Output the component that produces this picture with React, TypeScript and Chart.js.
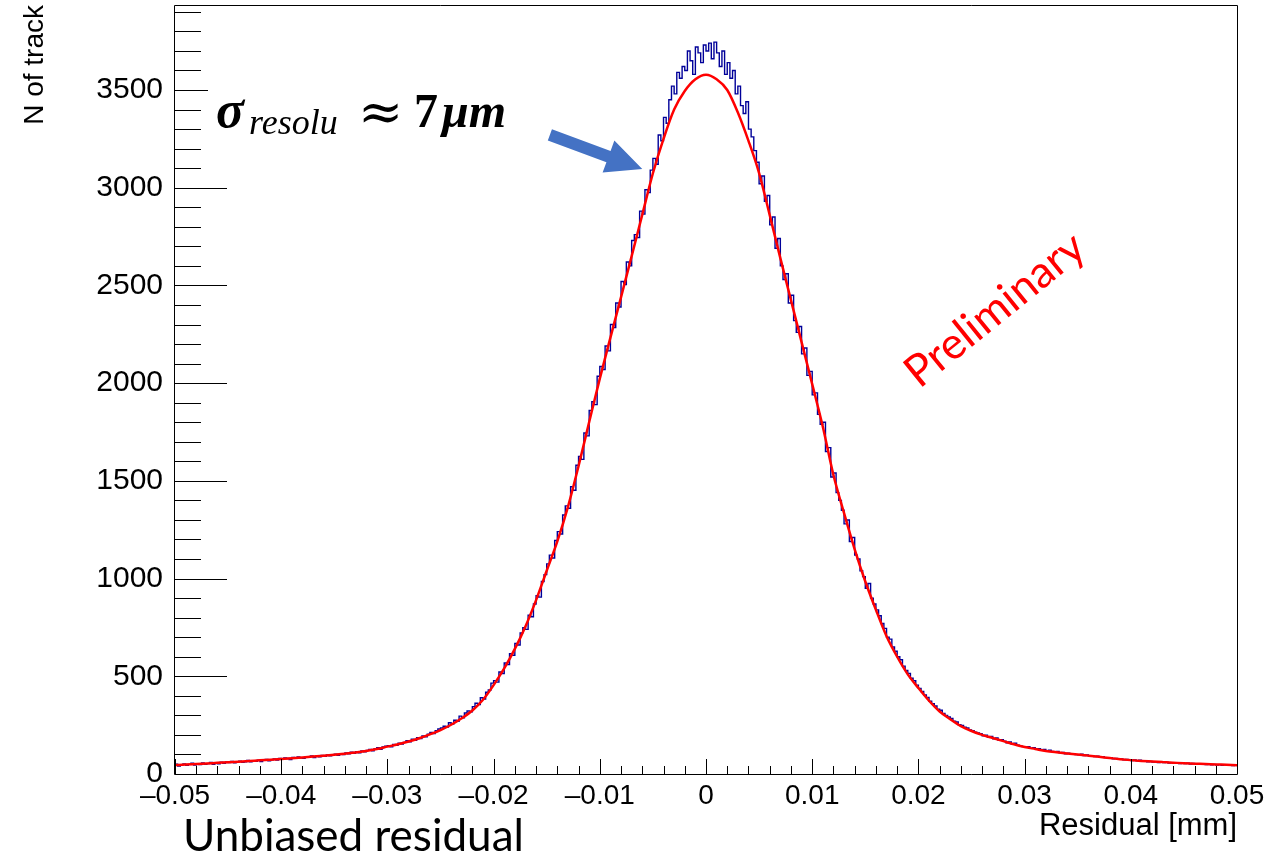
import React, { useEffect, useRef } from "react";
import { Chart, registerables } from "chart.js";

Chart.register(...registerables);

// ---------- data ----------
const X_MIN = -0.05;
const X_MAX = 0.05;
const Y_MIN = 0;
const Y_MAX = 3935;

const xTickValues = [-0.05, -0.04, -0.03, -0.02, -0.01, 0, 0.01, 0.02, 0.03, 0.04, 0.05];
const xTickLabels = ["\u20130.05", "\u20130.04", "\u20130.03", "\u20130.02", "\u20130.01", "0", "0.01", "0.02", "0.03", "0.04", "0.05"];
const yTickValues = [0, 500, 1000, 1500, 2000, 2500, 3000, 3500];
const yTickLabels = ["0", "500", "1000", "1500", "2000", "2500", "3000", "3500"];

// histogram: 400 bins of 0.00025 starting at -0.05
const HIST_START = -0.05;
const HIST_BIN_WIDTH = 0.00025;
const histCounts = [
  50, 41, 47, 52, 44, 49, 55, 46, 51, 48, 56, 50, 53, 59, 49, 57, 52, 60, 55, 62,
  58, 64, 57, 61, 66, 60, 63, 69, 62, 67, 65, 71, 64, 70, 74, 68, 73, 77, 71, 79,
  76, 82, 79, 74, 85, 81, 87, 83, 80, 89, 86, 92, 84, 91, 88, 95, 90, 97, 93, 99,
  101, 96, 104, 99, 108, 103, 111, 106, 114, 109, 118, 113, 121, 126, 119, 129, 134, 127, 138, 142,
  145, 139, 151, 147, 158, 153, 162, 170, 165, 178, 172, 186, 181, 195, 190, 204, 212, 207, 221, 230,
  236, 244, 240, 262, 256, 275, 270, 296, 288, 312, 322, 318, 345, 362, 356, 390, 384, 418, 430, 465,
  478, 470, 522, 514, 568, 560, 615, 608, 668, 660, 722, 748, 740, 812, 805, 870, 912, 905, 985, 1020,
  1075, 1120, 1105, 1195, 1240, 1228, 1325, 1372, 1360, 1470, 1452, 1580, 1625, 1610, 1745, 1730, 1860, 1905, 1890, 2035,
  2085, 2070, 2190, 2165, 2300, 2285, 2410, 2390, 2520, 2505, 2620, 2600, 2730, 2760, 2745, 2880, 2865, 2990, 2975, 3090,
  3150, 3120, 3270, 3240, 3360, 3330, 3450, 3520, 3480, 3590, 3560, 3620, 3600, 3700, 3650, 3580, 3720, 3690, 3640, 3730,
  3700, 3740, 3660, 3745, 3690, 3620, 3700, 3580, 3640, 3560, 3600, 3480, 3520, 3420, 3380, 3440, 3300, 3260, 3190, 3130,
  3020, 3060, 2930, 2960, 2810, 2850, 2690, 2740, 2600, 2530, 2560, 2410, 2450, 2320, 2260, 2290, 2150, 2180, 2040, 2060,
  1940, 1950, 1840, 1790, 1800, 1650, 1670, 1520, 1540, 1440, 1400, 1350, 1280, 1300, 1190, 1210, 1120, 1100, 1040, 1010,
  950, 975, 900, 870, 840, 810, 770, 745, 700, 690, 650, 628, 600, 585, 552, 530, 515, 490, 478, 455,
  438, 422, 405, 392, 372, 360, 348, 332, 326, 310, 300, 292, 284, 270, 266, 252, 248, 240, 236, 226,
  222, 214, 210, 206, 196, 199, 188, 192, 180, 184, 172, 176, 168, 160, 164, 152, 157, 148, 144, 140,
  136, 140, 131, 134, 127, 130, 124, 126, 118, 122, 116, 112, 115, 108, 110, 104, 107, 101, 104, 99,
  98, 101, 95, 97, 92, 94, 89, 91, 86, 88, 84, 81, 83, 78, 80, 76, 77, 73, 74, 70,
  69, 72, 67, 70, 65, 66, 63, 64, 61, 63, 59, 62, 58, 60, 56, 58, 55, 57, 54, 56,
  53, 55, 51, 54, 50, 52, 49, 51, 48, 50, 47, 49, 46, 48, 45, 48, 44, 47, 43, 46,
];

// fit curve sampled every 0.001 from -0.05 to 0.05
const FIT_START = -0.05;
const FIT_STEP = 0.001;
const fitValues = [
  46, 48, 51, 54, 57, 60, 63, 66, 70, 73,
  77, 81, 85, 89, 93, 98, 104, 110, 118, 128,
  140, 152, 166, 183, 203, 225, 252, 285, 325, 380,
  455, 540, 640, 755, 890, 1040, 1190, 1367, 1576, 1801,
  2023, 2233, 2440, 2650, 2862, 3074, 3250, 3400, 3495, 3555,
  3578,
  3555, 3500, 3385, 3240, 3075, 2860, 2640, 2425, 2210, 1995,
  1777, 1530, 1335, 1150, 985, 840, 705, 600, 510, 440,
  375, 320, 280, 245, 220, 200, 184, 168, 152, 138,
  128, 118, 111, 105, 100, 94, 88, 82, 76, 71,
  67, 64, 61, 58, 55, 53, 51, 49, 47, 45,
];

// annotation arrow in data coordinates
const arrowTail = { x: -0.0147, y: 3270 };
const arrowTip = { x: -0.006, y: 3096 };

// ---------- plugin for ROOT-like decorations ----------
const rootPlugin = {
  id: "rootDecor",
  afterDatasetsDraw(chart: any) {
    const { ctx, chartArea: ca, scales } = chart;
    const xs = scales.x;
    const ys = scales.y;
    ctx.save();
    ctx.strokeStyle = "#000";
    ctx.lineWidth = 1;
    ctx.beginPath();
    ctx.rect(Math.round(ca.left) - 0.5, Math.round(ca.top) + 0.5, Math.round(ca.right - ca.left) + 1, Math.round(ca.bottom - ca.top));
    // y ticks (inside)
    for (let v = 0; v <= 3900; v += 100) {
      const py = Math.round(ys.getPixelForValue(v)) + 0.5;
      const len = v % 500 === 0 ? 52 : 26;
      ctx.moveTo(ca.left, py);
      ctx.lineTo(ca.left + len, py);
    }
    // x ticks (inside)
    for (let i = 0; i <= 50; i++) {
      const v = X_MIN + i * 0.002;
      const px = Math.round(xs.getPixelForValue(v)) + 0.5;
      const len = i % 5 === 0 ? 15 : 8;
      ctx.moveTo(px, ca.bottom);
      ctx.lineTo(px, ca.bottom - len);
    }
    ctx.stroke();

    // arrow
    const tx = xs.getPixelForValue(arrowTail.x);
    const ty = ys.getPixelForValue(arrowTail.y);
    const hx = xs.getPixelForValue(arrowTip.x);
    const hy = ys.getPixelForValue(arrowTip.y);
    const dx = hx - tx, dy = hy - ty;
    const L = Math.hypot(dx, dy);
    const ux = dx / L, uy = dy / L;
    const nx = -uy, ny = ux;
    const sw = 6, hw = 17, hl = 36;
    const bx = hx - ux * hl, by = hy - uy * hl;
    ctx.fillStyle = "#4472C4";
    ctx.beginPath();
    ctx.moveTo(tx + nx * sw, ty + ny * sw);
    ctx.lineTo(bx + nx * sw, by + ny * sw);
    ctx.lineTo(bx + nx * hw, by + ny * hw);
    ctx.lineTo(hx, hy);
    ctx.lineTo(bx - nx * hw, by - ny * hw);
    ctx.lineTo(bx - nx * sw, by - ny * sw);
    ctx.lineTo(tx - nx * sw, ty - ny * sw);
    ctx.closePath();
    ctx.fill();
    ctx.restore();
  },
  afterDraw(chart: any) {
    const { ctx, chartArea: ca } = chart;
    ctx.save();
    // y-axis title
    ctx.fillStyle = "#000";
    ctx.font = '28px "Liberation Sans"';
    ctx.save();
    ctx.translate(43, 0);
    ctx.rotate(-Math.PI / 2);
    ctx.textAlign = "right";
    ctx.textBaseline = "alphabetic";
    ctx.fillText("N of track", -5, 0);
    ctx.restore();

    // x-axis title
    ctx.font = '31px "Liberation Sans"';
    ctx.textAlign = "right";
    ctx.textBaseline = "alphabetic";
    ctx.fillText("Residual [mm]", ca.right, 835);

    // Unbiased residual
    ctx.font = '44px "Lato"';
    ctx.textAlign = "left";
    ctx.fillText("Unbiased residual", 183, 851);

    // Preliminary
    ctx.save();
    ctx.fillStyle = "#FF0000";
    ctx.translate(995, 310);
    ctx.rotate((-39 * Math.PI) / 180);
    ctx.font = '44px "Lato"';
    ctx.textAlign = "center";
    ctx.textBaseline = "middle";
    ctx.fillText("Preliminary", 0, 0);
    ctx.restore();

    // sigma annotation
    ctx.fillStyle = "#fff";
    ctx.fillRect(208, 80, 312, 62);
    ctx.fillStyle = "#000";
    ctx.textAlign = "left";
    ctx.textBaseline = "alphabetic";
    ctx.font = 'italic bold 52px "Liberation Serif"';
    ctx.fillText("\u03C3", 216, 127);
    ctx.font = 'italic 36px "Liberation Serif"';
    ctx.fillText("resolu", 249, 134);
    ctx.font = '54px "DejaVu Serif"';
    ctx.fillText("\u2248", 358, 130);
    ctx.font = 'bold 48px "Liberation Serif"';
    ctx.fillText("7", 414, 127);
    ctx.font = 'italic bold 48px "Liberation Serif"';
    ctx.fillText("\u03BCm", 442, 127);
    ctx.restore();
  },
};

export default function App() {
  const canvasRef = useRef<HTMLCanvasElement | null>(null);

  useEffect(() => {
    const canvas = canvasRef.current;
    if (!canvas) return;

    const histPoints = histCounts.map((v, i) => ({ x: HIST_START + i * HIST_BIN_WIDTH, y: v }));
    histPoints.push({ x: HIST_START + histCounts.length * HIST_BIN_WIDTH, y: histCounts[histCounts.length - 1] });
    const fitPoints = fitValues.map((v, i) => ({ x: FIT_START + i * FIT_STEP, y: v }));

    const chart = new Chart(canvas, {
      type: "line",
      data: {
        datasets: [
          {
            label: "fit",
            data: fitPoints,
            borderColor: "#FF0000",
            borderWidth: 2.5,
            pointRadius: 0,
            cubicInterpolationMode: "monotone",
            fill: false,
            order: 0,
          },
          {
            label: "hist",
            data: histPoints,
            borderColor: "#000099",
            borderWidth: 1.4,
            pointRadius: 0,
            stepped: "before",
            fill: false,
            order: 1,
          },
        ],
      },
      options: {
        responsive: false,
        animation: false,
        events: [],
        layout: { padding: { left: 0, right: 32, top: 5, bottom: 0 } },
        plugins: { legend: { display: false }, tooltip: { enabled: false }, title: { display: false } },
        scales: {
          x: {
            type: "linear",
            min: X_MIN,
            max: X_MAX,
            grid: { display: false, drawTicks: false },
            border: { display: false },
            afterBuildTicks: (scale: any) => {
              scale.ticks = xTickValues.map((v) => ({ value: v }));
            },
            afterFit: (scale: any) => {
              scale.height = 83;
              scale.paddingLeft = 0;
              scale.paddingRight = 0;
            },
            ticks: {
              padding: 5,
              autoSkip: false,
              maxRotation: 0,
              color: "#000",
              font: { family: '"Liberation Sans"', size: 28 },
              callback: (_v: any, i: number) => xTickLabels[i],
            },
          },
          y: {
            type: "linear",
            min: Y_MIN,
            max: Y_MAX,
            grid: { display: false, drawTicks: false },
            border: { display: false },
            afterBuildTicks: (scale: any) => {
              scale.ticks = yTickValues.map((v) => ({ value: v }));
            },
            afterFit: (scale: any) => {
              scale.width = 175;
              scale.paddingTop = 0;
              scale.paddingBottom = 0;
            },
            ticks: {
              padding: 12,
              autoSkip: false,
              color: "#000",
              font: { family: '"Liberation Sans"', size: 30 },
              callback: (_v: any, i: number) => yTickLabels[i],
            },
          },
        },
      },
      plugins: [rootPlugin],
    });

    return () => chart.destroy();
  }, []);

  return (
    <div style={{ position: "absolute", left: 0, top: 0, width: 1269, height: 857, background: "#fff" }}>
      <canvas ref={canvasRef} width={1269} height={857} />
    </div>
  );
}
